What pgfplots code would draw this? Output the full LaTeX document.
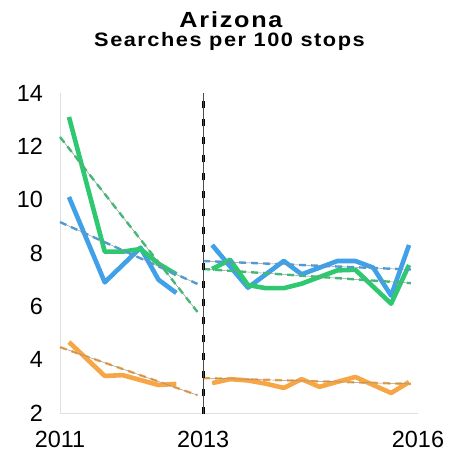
\documentclass[border=0pt]{standalone}
\usepackage{fontspec}
\setmainfont{Liberation Sans}
\usepackage{pgfplots}
\pgfplotsset{compat=1.18}
\definecolor{cblue}{RGB}{64,160,232}
\definecolor{cgreen}{RGB}{46,200,112}
\definecolor{corange}{RGB}{246,166,70}
\begin{document}
\begin{tikzpicture}
\begin{axis}[
  at={(0,0)}, anchor=south west,
  scale only axis, width=358bp, height=320bp,
  xmin=2011, xmax=2016, ymin=2, ymax=14,
  xtick={2011,2013,2016}, xticklabels={2011,2013,2016},
  ytick={2,4,6,8,10,12,14}, yticklabels={2,4,6,8,10,12,14},
  axis x line*=bottom, axis y line*=left,
  axis line style={draw=black!12, line width=0.8bp, -},
  major tick length=0pt,
  /pgf/number format/assume math mode=true,
  tick label style={font=\fontsize{23.5}{24}\selectfont},
  yticklabel style={inner sep=0pt, anchor=east, xshift=-17bp},
  xticklabel style={inner sep=0pt, anchor=north, yshift=-18bp},
  clip=false,
]
% main series
\addplot[cblue, line width=4.6bp, line join=round] coordinates {(2011.125,10.1) (2011.625,6.9) (2012.125,8.2) (2012.375,7.0) (2012.625,6.5)};
\addplot[cblue, line width=4.6bp, line join=round] coordinates {(2013.125,8.3) (2013.625,6.7) (2014.125,7.7) (2014.375,7.2) (2014.875,7.7) (2015.125,7.7) (2015.375,7.45) (2015.625,6.4) (2015.875,8.3)};
\addplot[cgreen, line width=4.6bp, line join=round] coordinates {(2011.125,13.1) (2011.625,8.05) (2011.875,8.05) (2012.125,8.15) (2012.375,7.6) (2012.625,7.2)};
\addplot[cgreen, line width=4.6bp, line join=round] coordinates {(2013.125,7.4) (2013.375,7.75) (2013.625,6.8) (2013.875,6.68) (2014.125,6.68) (2014.375,6.85) (2014.625,7.1) (2014.875,7.35) (2015.125,7.37) (2015.625,6.1) (2015.875,7.55)};
\addplot[corange, line width=4.6bp, line join=round] coordinates {(2011.125,4.66) (2011.625,3.39) (2011.875,3.42) (2012.375,3.05) (2012.625,3.09)};
\addplot[corange, line width=4.6bp, line join=round] coordinates {(2013.125,3.12) (2013.375,3.27) (2013.625,3.22) (2013.875,3.1) (2014.125,2.94) (2014.375,3.27) (2014.625,2.98) (2014.875,3.17) (2015.125,3.35) (2015.375,3.05) (2015.625,2.75) (2015.875,3.16)};
% trend lines
\pgfplotsset{trend/.style={line width=2.4bp, dash pattern=on 7bp off 5bp}, thin/.style={black!45, line width=0.45bp}}
\addplot[cblue, trend] coordinates {(2011,9.16) (2012.92,6.84)};
\addplot[thin] coordinates {(2011,9.16) (2012.92,6.84)};
\addplot[cgreen, trend] coordinates {(2011,12.35) (2012.92,5.79)};
\addplot[thin] coordinates {(2011,12.35) (2012.92,5.79)};
\addplot[corange, trend] coordinates {(2011,4.47) (2012.92,2.67)};
\addplot[thin] coordinates {(2011,4.47) (2012.92,2.67)};
\addplot[cblue, trend] coordinates {(2013,7.7) (2015.9,7.38)};
\addplot[thin] coordinates {(2013,7.7) (2015.9,7.38)};
\addplot[cgreen, trend] coordinates {(2013,7.4) (2015.9,6.87)};
\addplot[thin] coordinates {(2013,7.4) (2015.9,6.87)};
\addplot[corange, trend] coordinates {(2013,3.31) (2015.9,3.09)};
\addplot[thin] coordinates {(2013,3.31) (2015.9,3.09)};
% 2013 divider
\addplot[black, line width=2.8bp, dash pattern=on 7.5bp off 10.5bp] coordinates {(2013,1.95) (2013,14)};
\addplot[black!70, line width=0.5bp] coordinates {(2013,1.95) (2013,14)};
\end{axis}
\node[anchor=base, inner sep=0pt, font=\bfseries\fontsize{22}{22}\selectfont\addfontfeature{LetterSpace=7}] at (171bp,385bp) {\scalebox{1.15}[1]{Arizona}};
\node[anchor=base, inner sep=0pt, font=\bfseries\fontsize{19.5}{20}\selectfont\addfontfeature{LetterSpace=7}] at (169.5bp,366bp) {\scalebox{1.12}[1]{Searches per 100 stops}};
\pgfresetboundingbox
\path (-60bp,-46bp) rectangle (390bp,413bp);
\end{tikzpicture}
\end{document}
